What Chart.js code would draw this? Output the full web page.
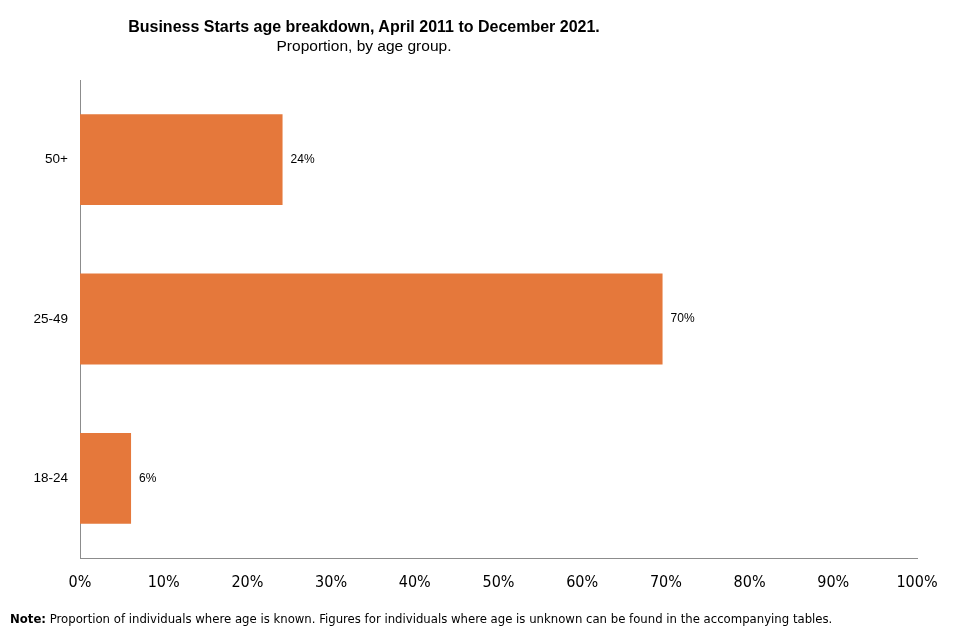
<!DOCTYPE html>
<html>
<head>
<meta charset="utf-8">
<script src="https://cdn.jsdelivr.net/npm/chart.js@4/dist/chart.umd.min.js"></script>
<style>
  html, body { margin: 0; padding: 0; background: #fff; }
  #wrap { position: relative; width: 960px; height: 640px; }
  #title { position: absolute; left: 0; width: 728px; top: 18px; text-align: center;
           font-family: "Liberation Sans", Arial, sans-serif; color: #000; }
  #title .t1 { font-weight: bold; font-size: 16px; line-height: 18px; }
  #title .t2 { font-size: 15.5px; line-height: 19px; }
  #note { position: absolute; left: 10px; top: 611px; font-size: 13px; color: #000;
          font-family: "Liberation Sans Narrow", "Arial Narrow", "DejaVu Sans Condensed", sans-serif; }
</style>
</head>
<body>
<div id="wrap">
  <canvas id="chart" width="960" height="640"></canvas>
  <div id="title">
    <div class="t1">Business Starts age breakdown, April 2011 to December 2021.</div>
    <div class="t2">Proportion, by age group.</div>
  </div>
  <div id="note"><b>Note:</b> Proportion of individuals where age is known. Figures for individuals where age is unknown can be found in the accompanying tables.</div>
</div>
<script>
// 数据
const ageGroups = ['50+', '25-49', '18-24'];
const proportions = [24.2, 69.6, 6.1];
const barColor = '#E5783B';

// 在柱子末端画百分比
const barLabels = {
    id: 'barLabels',
    afterDatasetsDraw(chart) {
        const ctx = chart.ctx;
        const meta = chart.getDatasetMeta(0);
        ctx.save();
        ctx.font = '12px "Liberation Sans", Arial, sans-serif';
        ctx.fillStyle = '#000';
        ctx.textBaseline = 'middle';
        ctx.textAlign = 'left';
        meta.data.forEach((bar, i) => {
            ctx.fillText(Math.round(proportions[i]) + '%', bar.x + 8, bar.y);
        });
        ctx.restore();
    }
};

const ctx = document.getElementById('chart').getContext('2d');
new Chart(ctx, {
    type: 'bar',
    data: {
        labels: ageGroups,
        datasets: [{
            data: proportions,
            backgroundColor: barColor,
            barPercentage: 1,
            categoryPercentage: 0.57
        }]
    },
    options: {
        indexAxis: 'y',
        responsive: false,
        animation: false,
        layout: { padding: { top: 80, right: 43, left: 0, bottom: 0 } },
        plugins: {
            legend: { display: false },
            tooltip: { enabled: false }
        },
        scales: {
            x: {
                min: 0,
                max: 100,
                ticks: {
                    stepSize: 10,
                    padding: 15,
                    color: '#000',
                    maxRotation: 0,
                    font: { family: '"Liberation Sans Narrow", "Arial Narrow", "DejaVu Sans Condensed", sans-serif', size: 16 },
                    callback: v => v + '%'
                },
                grid: { display: false, drawTicks: false },
                border: { color: '#8c8c8c', width: 1 },
                afterFit: scale => { scale.height = 82; }
            },
            y: {
                ticks: {
                    padding: 12,
                    color: '#000',
                    font: { family: '"Liberation Sans", Arial, sans-serif', size: 13.5 }
                },
                grid: { display: false, drawTicks: false },
                border: { color: '#8c8c8c', width: 1 },
                afterFit: scale => { scale.width = 80; }
            }
        }
    },
    plugins: [barLabels]
});
</script>
</body>
</html>
